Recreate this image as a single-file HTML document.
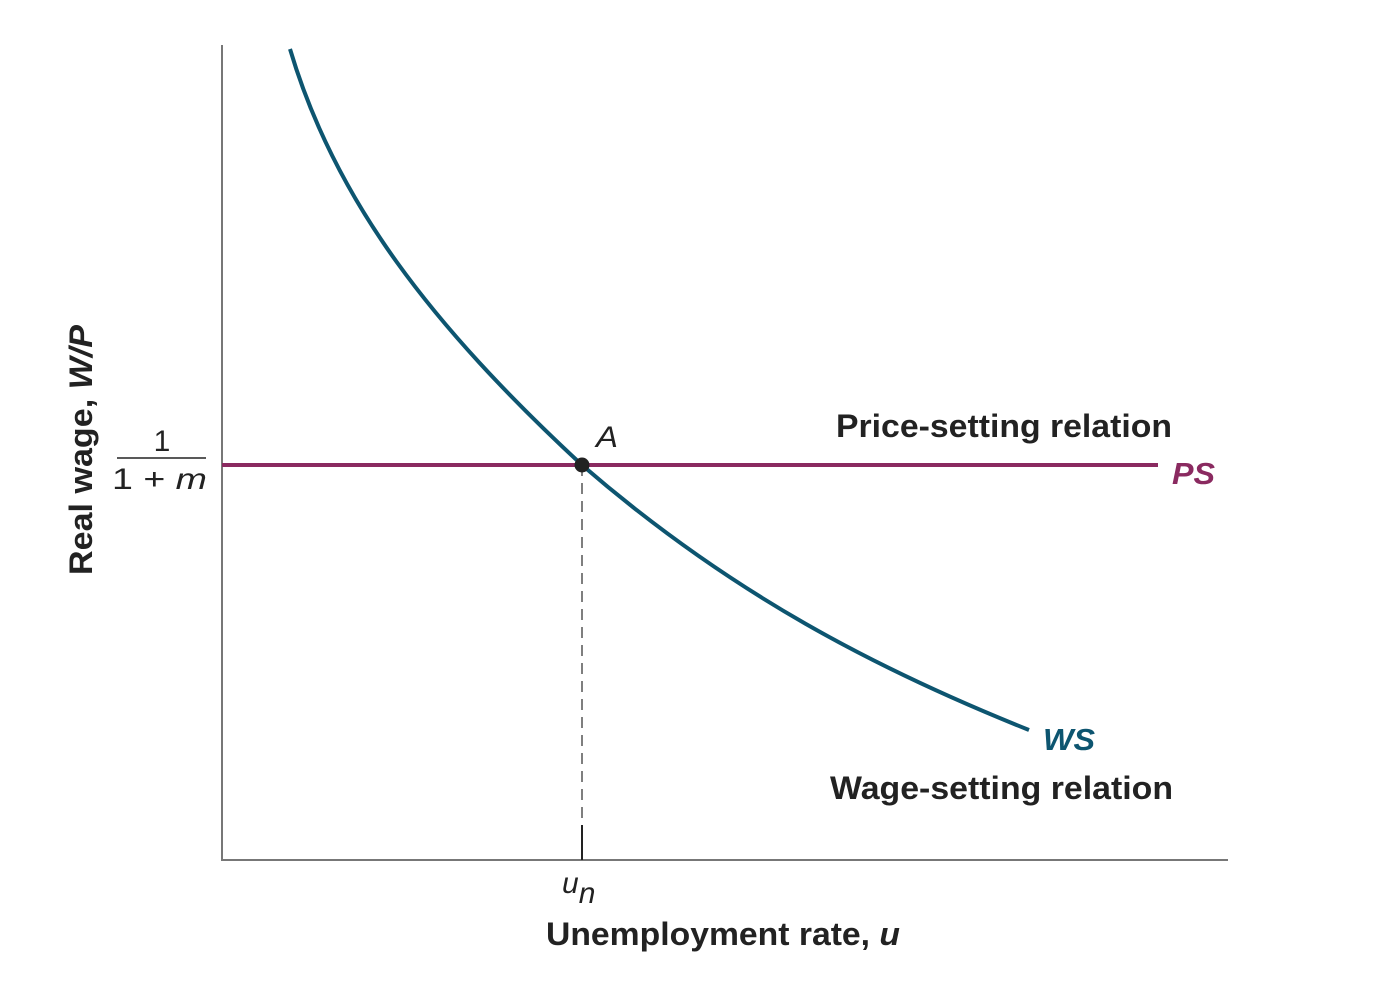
<!DOCTYPE html>
<html><head><meta charset="utf-8"><style>
html,body{margin:0;padding:0;background:#fff;}
svg text{font-family:"Liberation Sans",Arial,sans-serif;}
</style></head><body>
<svg width="1384" height="982" viewBox="0 0 1384 982" xmlns="http://www.w3.org/2000/svg">
<line x1="222" y1="45" x2="222" y2="861" stroke="#777" stroke-width="2"/>
<line x1="221" y1="860" x2="1228" y2="860" stroke="#777" stroke-width="2"/>
<line x1="582" y1="465" x2="582" y2="830" stroke="#555" stroke-width="1.5" stroke-dasharray="11,7"/>
<line x1="582" y1="825" x2="582" y2="860" stroke="#222" stroke-width="2"/>
<line x1="222" y1="465" x2="1158" y2="465" stroke="#8a2a60" stroke-width="4"/>
<path fill="none" stroke="#0d5570" stroke-width="4"
d="M290,49 C335,201 432,326 582,465 C732,595 879,670 1029,730"/>
<circle cx="582" cy="465" r="7.5" fill="#222"/>
<text x="596" y="447" font-size="30" font-style="italic" fill="#222" textLength="22" lengthAdjust="spacingAndGlyphs">A</text>
<text x="836" y="437" font-size="32" font-weight="bold" fill="#222" textLength="336" lengthAdjust="spacingAndGlyphs">Price-setting relation</text>
<text x="1172" y="484" font-size="31" font-weight="bold" font-style="italic" fill="#8a2a60" textLength="43" lengthAdjust="spacingAndGlyphs">PS</text>
<text x="1043" y="750" font-size="31" font-weight="bold" font-style="italic" fill="#0d5570" textLength="52" lengthAdjust="spacingAndGlyphs">WS</text>
<text x="830" y="799" font-size="32" font-weight="bold" fill="#222" textLength="343" lengthAdjust="spacingAndGlyphs">Wage-setting relation</text>
<text x="162" y="451" font-size="30" fill="#222" text-anchor="middle">1</text>
<line x1="117" y1="458" x2="206" y2="458" stroke="#222" stroke-width="1.5"/>
<text x="112" y="489" font-size="30" fill="#222" textLength="95" lengthAdjust="spacingAndGlyphs">1 + <tspan font-style="italic">m</tspan></text>
<text x="562" y="893" font-size="30" font-style="italic" fill="#222">u<tspan dy="10">n</tspan></text>
<text x="546" y="945" font-size="32" font-weight="bold" fill="#222" textLength="354" lengthAdjust="spacingAndGlyphs">Unemployment rate, <tspan font-style="italic">u</tspan></text>
<text transform="translate(92,575) rotate(-90)" font-size="32" font-weight="bold" fill="#222" textLength="250" lengthAdjust="spacingAndGlyphs">Real wage, <tspan font-style="italic">W/P</tspan></text>
</svg>
</body></html>
